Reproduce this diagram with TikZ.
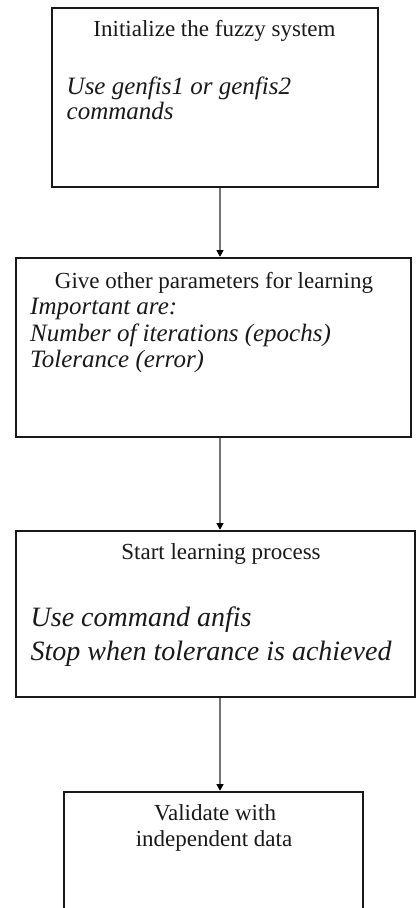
\documentclass[tikz,border=0pt]{standalone}
\usepackage{fontspec}
\setmainfont{Liberation Serif}
\usetikzlibrary{arrows.meta}
\newcommand\headfont{\fontsize{23}{27}\selectfont}
\newcommand\notefont{\fontsize{25}{27}\itshape\selectfont}
\newcommand\bignotefont{\fontsize{28}{33}\itshape\selectfont}
\begin{document}
\begin{tikzpicture}[
    stepbox/.style={draw=black!90, line width=2.6pt, inner sep=0pt},
    flow/.style={draw=black!55, line width=1.1pt, -{Triangle[width=7pt,length=6.5pt,black]}},
    txt/.style={inner sep=0pt, text=black!90}
  ]
    \useasboundingbox (0pt,0pt) rectangle (416pt,-908pt);
    \clip (0pt,0pt) rectangle (416pt,-908pt);
    \node[stepbox, minimum width=326pt, minimum height=179pt] (init) at (215pt,-97.5pt) {};
    \node[txt, anchor=base, font=\headfont] (inithead) at (214.5pt,-36pt) {Initialize the fuzzy system};
    \node[txt, anchor=base west, font=\notefont] (initnoteA) at (66.5pt,-94pt) {Use genfis1 or genfis2};
    \node[txt, anchor=base west, font=\notefont] (initnoteB) at (66.5pt,-119pt) {commands};
    \node[stepbox, minimum width=395pt, minimum height=179pt] (param) at (213.5pt,-347.5pt) {};
    \node[txt, anchor=base, font=\headfont] (paramhead) at (214pt,-288pt) {Give other parameters for learning};
    \node[txt, anchor=base west, font=\notefont] (paramnoteA) at (30pt,-314.5pt) {Important are:};
    \node[txt, anchor=base west, font=\notefont] (paramnoteB) at (30pt,-341pt) {Number of iterations (epochs)};
    \node[txt, anchor=base west, font=\notefont] (paramnoteC) at (30pt,-367.5pt) {Tolerance (error)};
    \node[stepbox, minimum width=399pt, minimum height=166pt] (learn) at (215.5pt,-614pt) {};
    \node[txt, anchor=base, font=\headfont] (learnhead) at (221pt,-559pt) {Start learning process};
    \node[txt, anchor=base west, font=\bignotefont] (learnnoteA) at (30.5pt,-626.5pt) {Use command anfis};
    \node[txt, anchor=base west, font=\bignotefont] (learnnoteB) at (30.5pt,-660pt) {Stop when tolerance is achieved};
    \node[stepbox, minimum width=299pt, minimum height=138pt] (valid) at (213.5pt,-861pt) {};
    \node[txt, anchor=base, font=\headfont] (validheadA) at (215pt,-820pt) {Validate with};
    \node[txt, anchor=base, font=\headfont] (validheadB) at (214pt,-846pt) {independent data};
    \draw[flow] (220pt,0pt |- init.south) -- (220pt,0pt |- param.north);
    \draw[flow] (220pt,0pt |- param.south) -- (220pt,0pt |- learn.north);
    \draw[flow] (220pt,0pt |- learn.south) -- (220pt,0pt |- valid.north);
\end{tikzpicture}
\end{document}
